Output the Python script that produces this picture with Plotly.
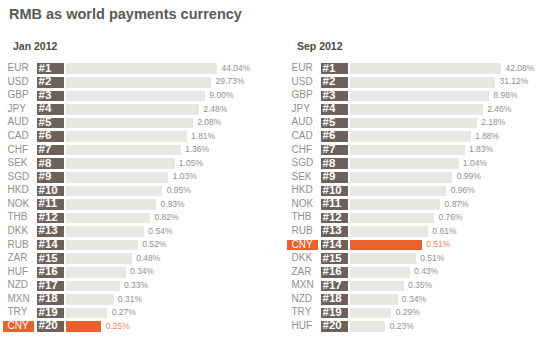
import plotly.graph_objects as go

# Share of world payments by currency (SWIFT), ranked
jan_currencies = ["EUR", "USD", "GBP", "JPY", "AUD", "CAD", "CHF", "SEK", "SGD", "HKD",
                  "NOK", "THB", "DKK", "RUB", "ZAR", "HUF", "NZD", "MXN", "TRY", "CNY"]
jan_shares = [44.04, 29.73, 9.00, 2.48, 2.08, 1.81, 1.36, 1.05, 1.03, 0.95,
              0.93, 0.82, 0.54, 0.52, 0.48, 0.34, 0.33, 0.31, 0.27, 0.25]

sep_currencies = ["EUR", "USD", "GBP", "JPY", "AUD", "CAD", "CHF", "SGD", "SEK", "HKD",
                  "NOK", "THB", "RUB", "CNY", "DKK", "ZAR", "MXN", "NZD", "TRY", "HUF"]
sep_shares = [42.08, 31.12, 8.98, 2.46, 2.18, 1.88, 1.83, 1.04, 0.99, 0.96,
              0.87, 0.76, 0.61, 0.51, 0.51, 0.43, 0.35, 0.34, 0.29, 0.23]

ranks = list(range(1, 21))
panel_titles = ["Jan 2012", "Sep 2012"]
highlight = "CNY"

W, H = 547, 344
PX = 6.1            # pixels per x unit
STUB = 4.8          # bar length below the last rank
BAR_X0 = 66         # pixel where the bars start inside a panel
ROW_PX = 13.57
ROW1_Y = 68.7

GREY_BAR = "#e9e7e4"
BADGE = "#6d625b"
ORANGE = "#e8622e"
LABEL = "#8f8f8f"
PCT = "#909090"
FONT = "Liberation Sans, Arial, sans-serif"


def ux(px):
    """Panel pixel offset -> x data units (bar start sits at -STUB)."""
    return (px - BAR_X0) / PX - STUB


fig = go.Figure()
panels = [(jan_currencies, jan_shares, "x", 0, 270),
          (sep_currencies, sep_shares, "x2", 284, W)]

for cur, shares, xa, left, right in panels:
    n = len(ranks)
    score = [n + 1 - r for r in ranks]
    is_hi = [c == highlight for c in cur]

    # ranking bars, length by rank
    fig.add_trace(go.Bar(
        y=ranks, x=[s + STUB for s in score], base=-STUB, orientation="h", width=0.78,
        marker=dict(color=[ORANGE if h else GREY_BAR for h in is_hi], line_width=0),
        xaxis=xa, yaxis="y", hoverinfo="skip", showlegend=False))

    # rank badges
    b0, b1 = ux(37), ux(64)
    fig.add_trace(go.Bar(
        y=ranks, x=[b1 - b0] * n, base=b0, orientation="h", width=0.78,
        marker=dict(color=BADGE, line_width=0),
        xaxis=xa, yaxis="y", hoverinfo="skip", showlegend=False))

    # highlighted currency label box
    hi_rank = [r for r, h in zip(ranks, is_hi) if h]
    c0, c1 = ux(3), ux(34)
    fig.add_trace(go.Bar(
        y=hi_rank, x=[c1 - c0] * len(hi_rank), base=c0, orientation="h", width=0.78,
        marker=dict(color=ORANGE, line_width=0),
        xaxis=xa, yaxis="y", hoverinfo="skip", showlegend=False))

    # currency codes
    fig.add_trace(go.Scatter(
        y=ranks, x=[ux(7.5)] * n, mode="text", text=cur, textposition="middle right",
        textfont=dict(family=FONT, size=10,
                      color=["#ffffff" if h else LABEL for h in is_hi]),
        xaxis=xa, yaxis="y", hoverinfo="skip", showlegend=False))

    # rank numbers
    fig.add_trace(go.Scatter(
        y=ranks, x=[ux(38.5)] * n, mode="text", text=[f"#{r}" for r in ranks],
        textposition="middle right",
        textfont=dict(family=FONT, size=11.5, color="#ffffff", weight="bold"),
        xaxis=xa, yaxis="y", hoverinfo="skip", showlegend=False))

    # share labels
    fig.add_trace(go.Scatter(
        y=ranks, x=[s + 0.7 for s in score], mode="text",
        text=[f"{v:.2f}%" for v in shares], textposition="middle right",
        textfont=dict(family=FONT, size=8.5,
                      color=["#ef8660" if h else PCT for h in is_hi]),
        xaxis=xa, yaxis="y", hoverinfo="skip", showlegend=False))

axis_common = dict(visible=False, showgrid=False, zeroline=False, fixedrange=True)
fig.update_layout(
    width=W, height=H, margin=dict(l=0, r=0, t=0, b=0),
    paper_bgcolor="white", plot_bgcolor="rgba(0,0,0,0)",
    barmode="overlay", bargap=0,
    xaxis=dict(domain=[0, 270 / W], range=[ux(0), ux(270)], anchor="y", **axis_common),
    xaxis2=dict(domain=[284 / W, 1], range=[ux(0), ux(W - 284)], anchor="y", **axis_common),
    yaxis=dict(domain=[0, 1], range=[1 + (H - ROW1_Y) / ROW_PX, 1 - ROW1_Y / ROW_PX],
               **axis_common),
    annotations=[
        dict(text="RMB as world payments currency", xref="paper", yref="paper",
             x=7 / W, y=1 - 14 / H, xanchor="left", yanchor="middle", showarrow=False,
             font=dict(family=FONT, size=14.5, color="#595959", weight="bold")),
        dict(text=panel_titles[0], xref="paper", yref="paper",
             x=11 / W, y=1 - 45.5 / H, xanchor="left", yanchor="middle", showarrow=False,
             font=dict(family=FONT, size=10.5, color="#4a4a4a", weight="bold")),
        dict(text=panel_titles[1], xref="paper", yref="paper",
             x=295 / W, y=1 - 45.5 / H, xanchor="left", yanchor="middle", showarrow=False,
             font=dict(family=FONT, size=10.5, color="#4a4a4a", weight="bold")),
    ],
)

fig.write_html("out.html")
